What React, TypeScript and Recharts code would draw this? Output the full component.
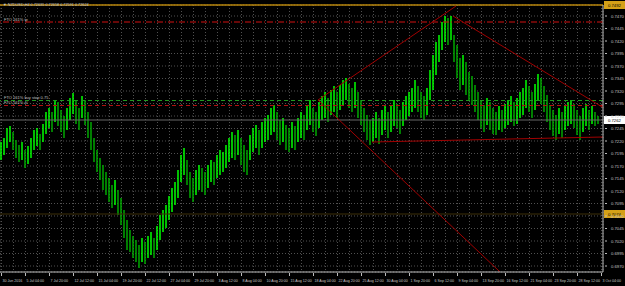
import React from "react";
import { ComposedChart, Bar, XAxis, YAxis, CartesianGrid, ReferenceLine } from "recharts";

// NZDUSD H4, one entry per two H4 bars
const highs = [
  0.7218, 0.7226, 0.7246, 0.7250, 0.7238, 0.7222, 0.7212, 0.7218, 0.7202, 0.7210,
  0.7226, 0.7242, 0.7246, 0.7234, 0.7254, 0.7278, 0.7286, 0.7278, 0.7302, 0.7298,
  0.7282, 0.7270, 0.7286, 0.7306, 0.7316, 0.7302, 0.7286, 0.7310, 0.7302, 0.7278,
  0.7258, 0.7226, 0.7202, 0.7186, 0.7172, 0.7158, 0.7146, 0.7132, 0.7142, 0.7122,
  0.7106, 0.7082, 0.7062, 0.7042, 0.7030, 0.7022, 0.7012, 0.7026, 0.7018, 0.7030,
  0.7038, 0.7026, 0.7050, 0.7072, 0.7082, 0.7092, 0.7110, 0.7126, 0.7138, 0.7162,
  0.7192, 0.7206, 0.7182, 0.7158, 0.7146, 0.7162, 0.7172, 0.7166, 0.7158, 0.7172,
  0.7182, 0.7178, 0.7192, 0.7202, 0.7198, 0.7212, 0.7226, 0.7238, 0.7232, 0.7242,
  0.7226, 0.7212, 0.7202, 0.7232, 0.7246, 0.7252, 0.7242, 0.7258, 0.7266, 0.7272,
  0.7286, 0.7292, 0.7278, 0.7262, 0.7266, 0.7252, 0.7246, 0.7258, 0.7250, 0.7266,
  0.7278, 0.7272, 0.7292, 0.7302, 0.7286, 0.7278, 0.7298, 0.7310, 0.7318, 0.7306,
  0.7322, 0.7330, 0.7318, 0.7332, 0.7342, 0.7346, 0.7334, 0.7326, 0.7338, 0.7318,
  0.7302, 0.7286, 0.7272, 0.7262, 0.7266, 0.7278, 0.7266, 0.7282, 0.7292, 0.7278,
  0.7290, 0.7302, 0.7294, 0.7282, 0.7298, 0.7310, 0.7318, 0.7326, 0.7342, 0.7330,
  0.7318, 0.7310, 0.7326, 0.7362, 0.7392, 0.7418, 0.7432, 0.7458, 0.7470, 0.7466,
  0.7470, 0.7432, 0.7412, 0.7386, 0.7392, 0.7378, 0.7358, 0.7350, 0.7332, 0.7318,
  0.7302, 0.7292, 0.7306, 0.7298, 0.7286, 0.7278, 0.7290, 0.7282, 0.7294, 0.7302,
  0.7310, 0.7298, 0.7306, 0.7318, 0.7326, 0.7342, 0.7330, 0.7318, 0.7334, 0.7354,
  0.7346, 0.7330, 0.7312, 0.7292, 0.7282, 0.7272, 0.7286, 0.7278, 0.7290, 0.7298,
  0.7302, 0.7294, 0.7282, 0.7270, 0.7286, 0.7294, 0.7282, 0.7290, 0.7278, 0.7270,
];

const lows = [
  0.7182, 0.7192, 0.7206, 0.7218, 0.7202, 0.7186, 0.7178, 0.7182, 0.7166, 0.7174,
  0.7186, 0.7202, 0.7210, 0.7202, 0.7218, 0.7234, 0.7246, 0.7238, 0.7258, 0.7250,
  0.7238, 0.7226, 0.7242, 0.7262, 0.7274, 0.7254, 0.7242, 0.7266, 0.7252, 0.7226,
  0.7202, 0.7178, 0.7158, 0.7142, 0.7122, 0.7112, 0.7098, 0.7086, 0.7092, 0.7072,
  0.7052, 0.7026, 0.7002, 0.6998, 0.6986, 0.6978, 0.6966, 0.6978, 0.6974, 0.6986,
  0.6992, 0.6986, 0.7002, 0.7022, 0.7038, 0.7046, 0.7062, 0.7078, 0.7092, 0.7106,
  0.7138, 0.7152, 0.7132, 0.7106, 0.7098, 0.7112, 0.7122, 0.7118, 0.7112, 0.7126,
  0.7138, 0.7132, 0.7146, 0.7152, 0.7158, 0.7166, 0.7178, 0.7186, 0.7182, 0.7192,
  0.7172, 0.7158, 0.7152, 0.7182, 0.7198, 0.7206, 0.7192, 0.7206, 0.7218, 0.7222,
  0.7232, 0.7238, 0.7222, 0.7212, 0.7218, 0.7202, 0.7198, 0.7206, 0.7202, 0.7218,
  0.7226, 0.7222, 0.7242, 0.7252, 0.7238, 0.7230, 0.7246, 0.7262, 0.7266, 0.7258,
  0.7272, 0.7278, 0.7266, 0.7282, 0.7292, 0.7302, 0.7286, 0.7278, 0.7286, 0.7266,
  0.7252, 0.7238, 0.7222, 0.7212, 0.7218, 0.7226, 0.7214, 0.7232, 0.7242, 0.7226,
  0.7238, 0.7250, 0.7246, 0.7234, 0.7250, 0.7262, 0.7270, 0.7278, 0.7286, 0.7278,
  0.7266, 0.7262, 0.7272, 0.7302, 0.7322, 0.7352, 0.7378, 0.7402, 0.7418, 0.7412,
  0.7422, 0.7378, 0.7346, 0.7322, 0.7332, 0.7312, 0.7302, 0.7292, 0.7278, 0.7262,
  0.7246, 0.7238, 0.7252, 0.7242, 0.7234, 0.7232, 0.7242, 0.7238, 0.7246, 0.7252,
  0.7258, 0.7250, 0.7254, 0.7266, 0.7272, 0.7286, 0.7278, 0.7266, 0.7282, 0.7302,
  0.7294, 0.7278, 0.7258, 0.7242, 0.7230, 0.7222, 0.7234, 0.7226, 0.7242, 0.7250,
  0.7254, 0.7246, 0.7232, 0.7222, 0.7238, 0.7250, 0.7242, 0.7254, 0.7250, 0.7254,
];

const timeLabels = [
  "30 Jun 2016", "5 Jul 04:00", "7 Jul 20:00", "12 Jul 12:00", "15 Jul 04:00", "19 Jul 20:00",
  "22 Jul 12:00", "27 Jul 04:00", "29 Jul 20:00", "3 Aug 12:00", "8 Aug 04:00", "10 Aug 20:00",
  "15 Aug 12:00", "18 Aug 04:00", "22 Aug 20:00", "25 Aug 12:00", "30 Aug 04:00", "1 Sep 20:00",
  "6 Sep 12:00", "9 Sep 04:00", "13 Sep 20:00", "16 Sep 12:00", "21 Sep 04:00", "23 Sep 20:00",
  "28 Sep 12:00", "3 Oct 04:00",
];

const priceTicks = [
  0.7470, 0.7445, 0.7420, 0.7395, 0.7370, 0.7345, 0.7320, 0.7295, 0.7270, 0.7245, 0.7220,
  0.7195, 0.7170, 0.7145, 0.7120, 0.7095, 0.7070, 0.7045, 0.7020, 0.6995, 0.6970,
];

const priceMin = 0.6958;
const priceMax = 0.7492;
const tpLevel = 0.7458;
const buyStopLevel = 0.7301;
const slLevel = 0.7291;
const lowerLevel = 0.7074;
const bidPrice = 0.7262;

// trend lines: [bar index, price] pairs
const trendLines = [
  [[105.5, 0.7302], [151.5, 0.7490]],
  [[150.5, 0.7470], [200.5, 0.7287]],
  [[105.5, 0.7302], [166.2, 0.6958]],
  [[123.5, 0.7218], [200.5, 0.7228]],
];

const data = highs.map((h, i) => ({
  i,
  hi: h,
  lo: lows[i],
  up: i === 0 || h + lows[i] >= highs[i - 1] + lows[i - 1],
}));

const gridTicks = Array.from({ length: 51 }, (_, k) => k * 4);
const FONT = "'Liberation Sans', Arial, sans-serif";

const Candle = (props: any) => {
  const { x, y, width, height, payload } = props;
  const top = Math.min(y, y + height);
  const h = Math.max(Math.abs(height), 1);
  return <rect x={x + width / 2 - 0.75} y={top} width={1.5} height={h} fill={payload.up ? "#00ff00" : "#00a800"} />;
};

const TimeTick = (props: any) => {
  const { x, y, payload } = props;
  const k = payload.value;
  if (k % 8 !== 0) return <g />;
  return (
    <g>
      <line x1={x} x2={x} y1={y - 1} y2={y + 2} stroke="#bbb" />
      <text x={x + 1} y={y + 8} fontSize={3.6} fill="#c8c8c8" fontFamily={FONT}>
        {timeLabels[k / 8]}
      </text>
    </g>
  );
};

const PriceTick = (props: any) => {
  const { x, y, payload } = props;
  return (
    <g>
      <line x1={x} x2={x + 2} y1={y} y2={y} stroke="#bbb" />
      <text x={x + 6} y={y + 1.5} fontSize={4.2} fill="#c8c8c8" fontFamily={FONT}>
        {payload.value.toFixed(4)}
      </text>
    </g>
  );
};

const lineTag = (text: string) => (props: any) => {
  const { viewBox } = props;
  return (
    <text x={viewBox.x + 4} y={viewBox.y - 1.5} fontSize={4} fill="#c0c0c0" fontFamily={FONT}>
      {text}
    </text>
  );
};

const priceTag = (value: number, bg: string) => (props: any) => {
  const { viewBox } = props;
  const x = viewBox.x + viewBox.width + 1;
  return (
    <g>
      <rect x={x} y={viewBox.y - 4} width={21} height={8} fill={bg} />
      <text x={x + 4} y={viewBox.y + 1.5} fontSize={4.2} fill="#000" fontFamily={FONT}>
        {value.toFixed(4)}
      </text>
    </g>
  );
};

const App = () => (
  <div style={{ position: "absolute", left: 0, top: 0, width: 625, height: 286, background: "#000" }}>
    <ComposedChart width={625} height={286} data={data} margin={{ top: 5, right: 0, bottom: 0, left: 0 }}>
      <CartesianGrid stroke="#505050" strokeDasharray="1 2" />
      <XAxis
        dataKey="i"
        type="number"
        domain={[-0.5, 200.5]}
        ticks={gridTicks}
        interval={0}
        height={14}
        allowDataOverflow
        axisLine={{ stroke: "#bbb" }}
        tickLine={false}
        tickSize={0}
        tick={<TimeTick />}
      />
      <YAxis
        orientation="right"
        type="number"
        domain={[priceMin, priceMax]}
        ticks={priceTicks}
        interval={0}
        width={22}
        allowDataOverflow
        axisLine={{ stroke: "#bbb" }}
        tickLine={false}
        tickSize={0}
        tick={<PriceTick />}
      />
      <ReferenceLine y={priceMax} stroke="#b8860b" strokeWidth={1.5} ifOverflow="visible" label={priceTag(priceMax, "#d4a017")} />
      <ReferenceLine y={lowerLevel} stroke="#3f3008" label={priceTag(lowerLevel, "#d4a017")} />
      <ReferenceLine y={bidPrice} stroke="#666" label={priceTag(bidPrice, "#ffffff")} />
      <ReferenceLine y={tpLevel} stroke="#d01010" strokeDasharray="6 2 1 2" label={lineTag("FTO 161% tp")} />
      <ReferenceLine y={buyStopLevel} stroke="#1f9a1f" strokeDasharray="4 3" label={lineTag("FTO 161% buy stop 0.75")} />
      <ReferenceLine y={slLevel} stroke="#b01010" strokeDasharray="4 3" label={lineTag("FTO 161% sl")} />
      {trendLines.map((seg, k) => (
        <ReferenceLine
          key={k}
          segment={[{ x: seg[0][0], y: seg[0][1] }, { x: seg[1][0], y: seg[1][1] }]}
          stroke="#a00000"
          ifOverflow="hidden"
        />
      ))}
      <Bar dataKey={(d: any) => [d.lo, d.hi]} barSize={2} shape={<Candle />} isAnimationActive={false} />
    </ComposedChart>
    <svg width={625} height={12} style={{ position: "absolute", left: 0, top: 0, pointerEvents: "none" }}>
      <text x={3} y={6} fontSize={3.8} fill="#d0d0d0" fontFamily={FONT}>
        ▼ NZDUSD,H4  0.72635 0.72658 0.72591 0.72624
      </text>
    </svg>
  </div>
);

export default App;
